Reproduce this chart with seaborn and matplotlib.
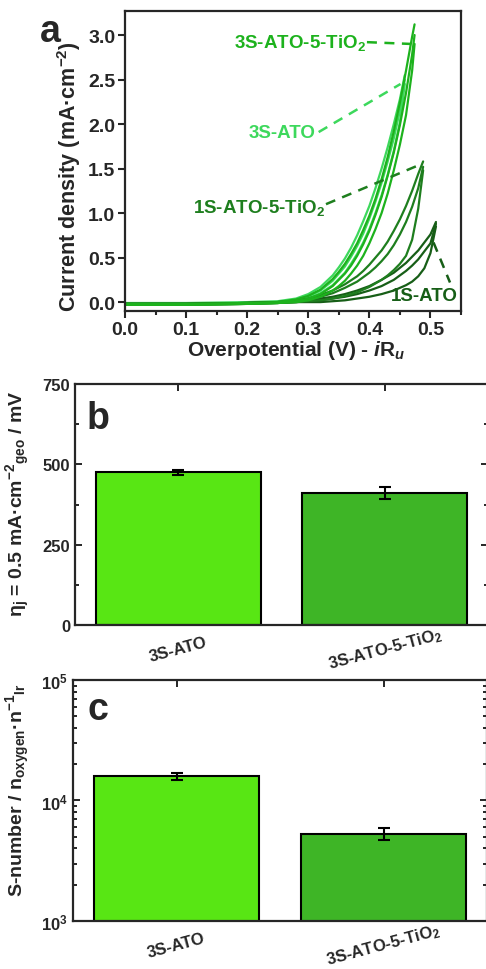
import numpy as np
import pandas as pd
import matplotlib
matplotlib.use("Agg")
import matplotlib.pyplot as plt
from matplotlib.ticker import MultipleLocator, LogLocator, NullFormatter, FixedLocator, FormatStrFormatter
import seaborn as sns

sns.set_style("ticks")
plt.rcParams['font.family'] = ['Liberation Sans', 'DejaVu Sans']
plt.rcParams['font.weight'] = 'bold'
plt.rcParams['axes.labelweight'] = 'bold'
plt.rcParams['mathtext.fontset'] = 'custom'
plt.rcParams['mathtext.rm'] = 'Liberation Sans:bold'
plt.rcParams['mathtext.bf'] = 'Liberation Sans:bold'
plt.rcParams['mathtext.it'] = 'Liberation Sans:italic:bold'
plt.rcParams['mathtext.default'] = 'bf'

# ---------------- Panel a data ----------------
x_3s_tio2 = [0.0, 0.10, 0.20, 0.25, 0.28, 0.30, 0.32, 0.34, 0.35, 0.36, 0.37, 0.38, 0.39, 0.40,
             0.41, 0.42, 0.43, 0.44, 0.45, 0.46, 0.47, 0.474]
y_3s_tio2_1 = [-0.02, -0.02, -0.01, 0.00, 0.03, 0.07, 0.14, 0.26, 0.34, 0.43, 0.54, 0.66, 0.81, 0.97,
               1.16, 1.38, 1.63, 1.92, 2.24, 2.60, 2.98, 3.12]
y_3s_tio2_2 = [-0.03, -0.03, -0.02, -0.01, 0.01, 0.04, 0.09, 0.18, 0.25, 0.32, 0.41, 0.52, 0.65, 0.80,
               0.98, 1.18, 1.42, 1.68, 1.99, 2.35, 2.78, 3.00]
y_3s_tio2_3 = [-0.03, -0.03, -0.02, -0.01, 0.00, 0.02, 0.06, 0.13, 0.18, 0.24, 0.32, 0.41, 0.52, 0.66,
               0.82, 1.00, 1.22, 1.48, 1.77, 2.10, 2.60, 2.90]

x_3s = [0.0, 0.10, 0.20, 0.25, 0.28, 0.30, 0.32, 0.34, 0.35, 0.36, 0.37, 0.38, 0.39, 0.40,
        0.41, 0.42, 0.43, 0.44, 0.45, 0.458]
y_3s_1 = [-0.01, -0.01, 0.00, 0.01, 0.04, 0.09, 0.17, 0.30, 0.39, 0.49, 0.61, 0.75, 0.91, 1.08,
          1.28, 1.50, 1.74, 2.00, 2.28, 2.55]
y_3s_2 = [-0.02, -0.02, -0.01, 0.00, 0.02, 0.06, 0.13, 0.24, 0.32, 0.40, 0.51, 0.63, 0.77, 0.94,
          1.13, 1.34, 1.58, 1.84, 2.15, 2.50]
y_3s_3 = [-0.02, -0.02, -0.01, -0.01, 0.01, 0.04, 0.10, 0.19, 0.26, 0.33, 0.43, 0.54, 0.67, 0.82,
          1.00, 1.20, 1.43, 1.70, 2.02, 2.45]

x_1s_tio2 = [0.0, 0.10, 0.20, 0.25, 0.28, 0.30, 0.32, 0.34, 0.36, 0.38, 0.39, 0.40, 0.41, 0.42,
             0.43, 0.44, 0.45, 0.46, 0.47, 0.48, 0.488]
y_1s_tio2_1 = [-0.02, -0.02, -0.01, 0.00, 0.02, 0.04, 0.08, 0.13, 0.20, 0.29, 0.35, 0.42, 0.50, 0.58,
               0.68, 0.80, 0.93, 1.08, 1.25, 1.44, 1.58]
y_1s_tio2_2 = [-0.02, -0.02, -0.01, 0.00, 0.01, 0.03, 0.06, 0.10, 0.16, 0.23, 0.28, 0.33, 0.39, 0.46,
               0.54, 0.64, 0.76, 0.90, 1.07, 1.28, 1.52]
y_1s_tio2_3 = [-0.03, -0.03, -0.02, -0.01, 0.00, 0.01, 0.02, 0.04, 0.07, 0.11, 0.14, 0.17, 0.21, 0.25,
               0.30, 0.36, 0.43, 0.52, 0.70, 1.05, 1.48]

x_1s = [0.0, 0.10, 0.20, 0.25, 0.28, 0.30, 0.32, 0.34, 0.36, 0.38, 0.40, 0.42, 0.44, 0.46,
        0.47, 0.48, 0.49, 0.50, 0.509]
y_1s_1 = [-0.02, -0.02, -0.01, 0.00, 0.01, 0.02, 0.04, 0.06, 0.09, 0.13, 0.18, 0.25, 0.33, 0.44,
          0.51, 0.58, 0.67, 0.76, 0.90]
y_1s_2 = [-0.02, -0.02, -0.01, 0.00, 0.00, 0.01, 0.02, 0.04, 0.06, 0.09, 0.13, 0.18, 0.25, 0.35,
          0.41, 0.48, 0.57, 0.66, 0.88]
y_1s_3 = [-0.03, -0.03, -0.02, -0.01, 0.00, 0.00, 0.00, 0.01, 0.02, 0.04, 0.06, 0.09, 0.13, 0.19,
          0.23, 0.29, 0.38, 0.55, 0.85]

series_names = ["3S-ATO-5-TiO$_2$", "3S-ATO", "1S-ATO-5-TiO$_2$", "1S-ATO"]
series_colors = ["#1DB21D", "#3DD85C", "#1E7E1E", "#175E17"]

# ---------------- Panel b/c data ----------------
categories = ["3S-ATO", "3S-ATO-5-TiO$_2$"]
eta_vals = [475, 411]
eta_err = [8, 18]
snum_vals = [15900, 5290]
snum_err = [1000, 620]
bar_colors = ["#58E614", "#3EB526"]
log_tick_labels = [r"$\mathbf{10^3}$", r"$\mathbf{10^4}$", r"$\mathbf{10^5}$"]

W, H = 486, 970
fig = plt.figure(figsize=(W / 100, H / 100), dpi=100)

def box(l, r, t, b):
    return [l / W, 1 - b / H, (r - l) / W, (b - t) / H]

# ================= Panel a =================
ax = fig.add_axes(box(125, 461, 12, 312))
groups = [
    (x_3s, [y_3s_1, y_3s_2, y_3s_3], series_colors[1]),
    (x_1s, [y_1s_1, y_1s_2, y_1s_3], series_colors[3]),
    (x_1s_tio2, [y_1s_tio2_1, y_1s_tio2_2, y_1s_tio2_3], series_colors[2]),
    (x_3s_tio2, [y_3s_tio2_1, y_3s_tio2_2, y_3s_tio2_3], series_colors[0]),
]
for xs, ys_list, col in groups:
    for ys in ys_list:
        sns.lineplot(x=xs, y=ys, sort=False, estimator=None, color=col, lw=1.6, ax=ax)

ax.set_xlim(0, 0.55)
ax.set_ylim(-0.1, 3.27)
ax.xaxis.set_major_locator(MultipleLocator(0.1))
ax.xaxis.set_minor_locator(MultipleLocator(0.05))
ax.yaxis.set_major_locator(MultipleLocator(0.5))
ax.tick_params(axis='both', which='major', direction='out', length=5, width=1.5, labelsize=14, pad=2)
ax.tick_params(axis='x', which='minor', direction='out', length=3, width=1.5)
ax.xaxis.set_major_formatter(FormatStrFormatter('%.1f'))
ax.yaxis.set_major_formatter(FormatStrFormatter('%.1f'))
for s in ax.spines.values():
    s.set_linewidth(1.6)
    s.set_visible(True)
ax.set_ylabel("Current density (mA·cm$^{\\mathbf{-2}}$)", fontsize=15.5)
ax.yaxis.set_label_coords(-0.125, 0.453)
ax.set_xlabel("Overpotential (V) - $\\mathit{i}$R$_{\\mathit{u}}$", fontsize=15, va='top')
ax.xaxis.set_label_coords(0.51, -0.09)

ann_fs = 13.5
dash = (0, (4, 3))
ax.text(0.394, 2.92, series_names[0], color=series_colors[0], fontsize=ann_fs, ha='right', va='center')
ax.plot([0.396, 0.468], [2.92, 2.90], color=series_colors[0], lw=1.8, ls=dash)
ax.text(0.312, 1.91, series_names[1], color=series_colors[1], fontsize=ann_fs, ha='right', va='center')
ax.plot([0.317, 0.451], [1.91, 2.45], color=series_colors[1], lw=1.8, ls=dash)
ax.text(0.327, 1.07, series_names[2], color=series_colors[2], fontsize=ann_fs, ha='right', va='center')
ax.plot([0.329, 0.485], [1.10, 1.55], color=series_colors[2], lw=1.8, ls=dash)
ax.text(0.545, 0.07, series_names[3], color=series_colors[3], fontsize=ann_fs, ha='right', va='center')
ax.plot([0.505, 0.532], [0.67, 0.22], color=series_colors[3], lw=1.8, ls=dash)

fig.text(40 / W, 1 - 42 / H, "a", fontsize=27, fontweight='bold', va='baseline', ha='left')

# ================= Panels b and c =================
def bar_panel(axb, vals, errs, logscale=False):
    df = pd.DataFrame({"cat": categories, "val": vals})
    if logscale:
        axb.set_yscale('log')
    sns.barplot(data=df, x="cat", y="val", hue="cat", palette=bar_colors, legend=False,
                edgecolor='black', linewidth=1.5, width=0.8, ax=axb, errorbar=None, saturation=1)
    axb.errorbar([0, 1], vals, yerr=errs, fmt='none', ecolor='black', elinewidth=1.5,
                 capsize=4, capthick=1.5, zorder=5)
    axb.set_xlim(-0.5, 1.5)
    axb.set_xlabel("")
    for s in axb.spines.values():
        s.set_linewidth(1.6)
        s.set_visible(True)
    axb.tick_params(axis='both', which='both', direction='in', top=True, right=True, width=1.4)
    axb.tick_params(axis='both', which='major', length=5, labelsize=12)
    axb.tick_params(axis='both', which='minor', length=3)
    axb.set_xticks([0, 1])
    axb.set_xticklabels(categories, rotation=15, ha='center', va='center',
                        rotation_mode='anchor', fontsize=12)
    axb.tick_params(axis='x', which='major', pad=17)

axb = fig.add_axes(box(75, 488, 385, 626))
bar_panel(axb, eta_vals, eta_err)
axb.set_ylim(0, 750)
axb.yaxis.set_major_locator(MultipleLocator(250))
axb.yaxis.set_minor_locator(MultipleLocator(125))
axb.set_ylabel("η$_{\\mathbf{j}}$ = 0.5 mA·cm$^{\\mathbf{-2}}$$_{\\mathbf{geo}}$ / mV", fontsize=14)
axb.yaxis.set_label_coords(-0.105, 0.508)
axb.text(0.029, 0.817, "b", transform=axb.transAxes, fontsize=27, fontweight='bold', va='baseline')

axc = fig.add_axes(box(73, 487, 681, 922))
bar_panel(axc, snum_vals, snum_err, logscale=True)
axc.set_ylim(1e3, 1e5)
axc.yaxis.set_major_locator(FixedLocator([1e3, 1e4, 1e5]))
axc.set_yticklabels(log_tick_labels)
axc.yaxis.set_minor_locator(LogLocator(base=10, subs=np.arange(2, 10)))
axc.yaxis.set_minor_formatter(NullFormatter())
axc.set_ylabel("S-number / n$_{\\mathbf{oxygen}}$·n$^{\\mathbf{-1}}$$_{\\mathbf{Ir}}$", fontsize=14)
axc.yaxis.set_label_coords(-0.099, 0.548)
axc.text(0.034, 0.838, "c", transform=axc.transAxes, fontsize=27, fontweight='bold', va='baseline')

fig.savefig("out.png", dpi=100)
